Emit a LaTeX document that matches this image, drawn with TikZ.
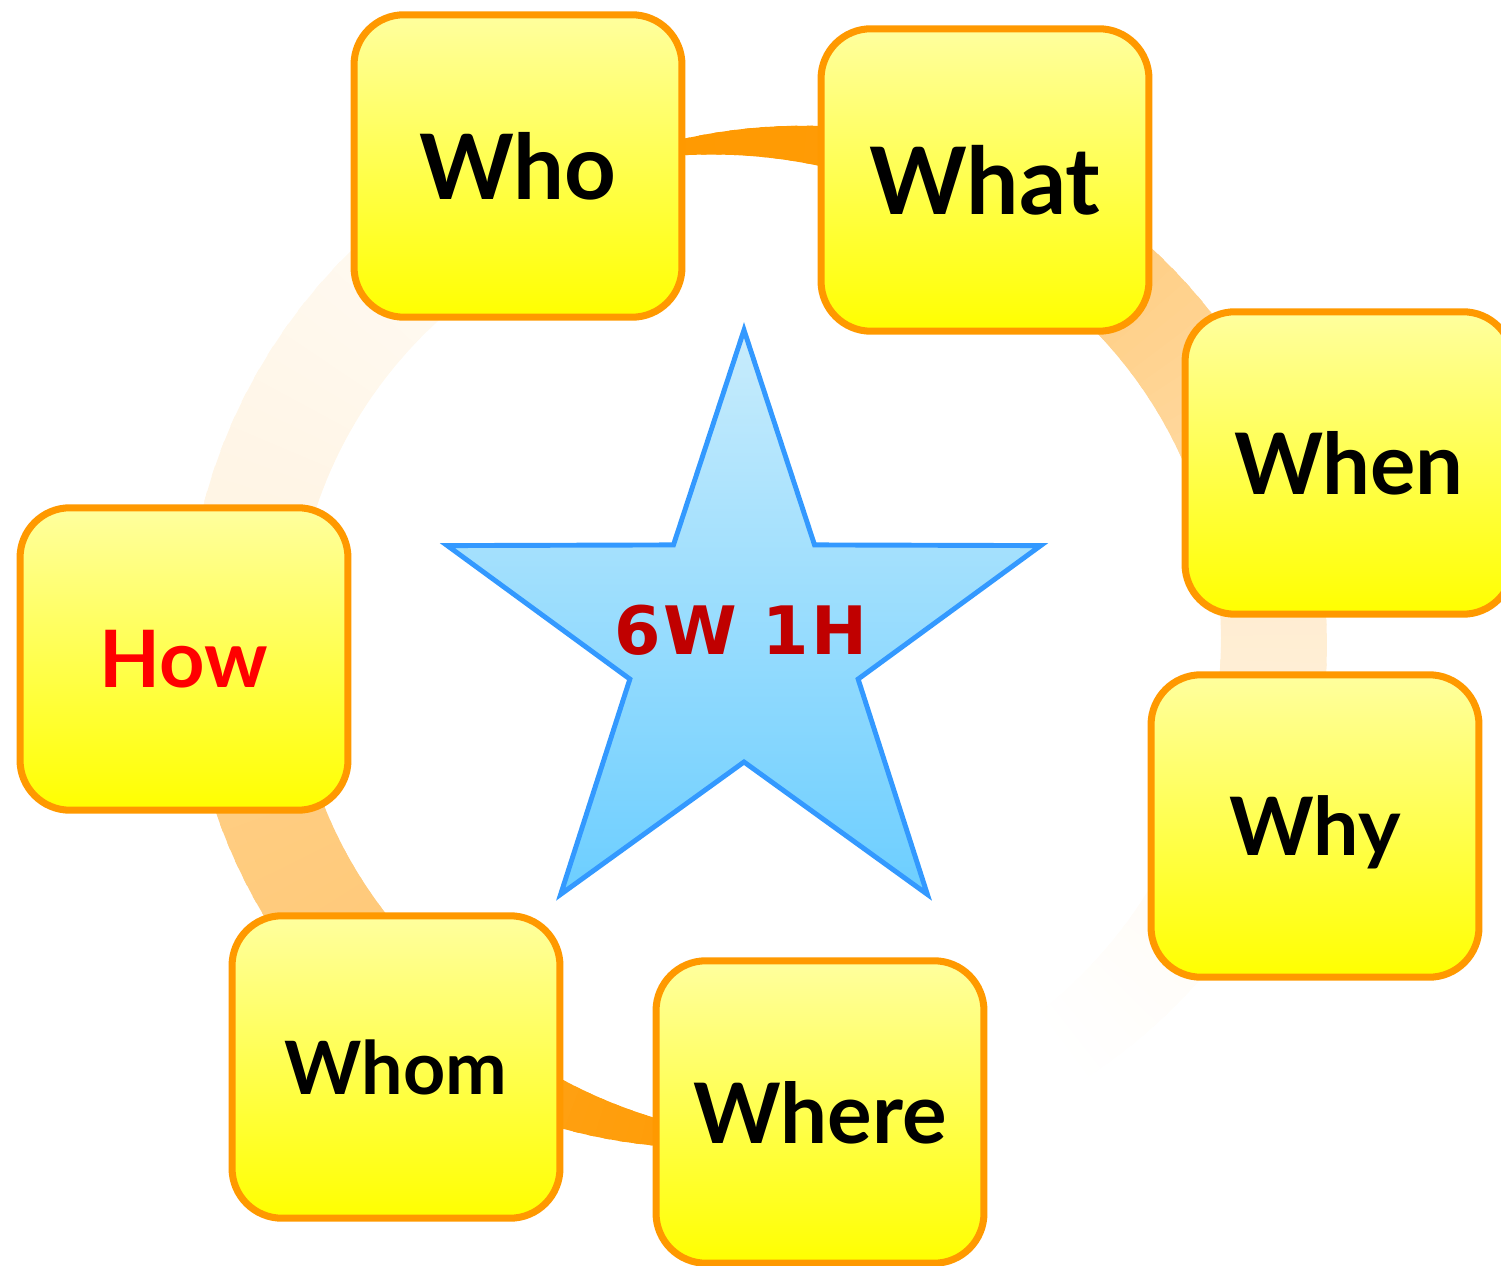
\documentclass[tikz,border=0pt]{standalone}
\usepackage{fontspec}
\setmainfont{Lato}
\newfontfamily\starfont[LetterSpace=4]{DejaVu Sans}
\usepackage{tikz}
\usetikzlibrary{shapes.geometric}
\definecolor{ringorange}{RGB}{255,153,0}
\definecolor{starblue}{RGB}{51,153,255}
\definecolor{startop}{RGB}{200,236,252}
\definecolor{starbottom}{RGB}{108,206,255}
\definecolor{titlered}{RGB}{192,0,0}
\newcommand{\ringcx}{757}
\newcommand{\ringcy}{642}
\newcommand{\ringrx}{517}
\newcommand{\ringry}{500}
% one piece of the ring: from angle, to angle, widths, strength of the orange
\newcommand{\ringpart}[6]{%
  \foreach \i in {0,...,23}{%
    \pgfmathsetmacro{\angA}{#1+(#2-#1)*\i/24}%
    \pgfmathsetmacro{\angB}{#1+(#2-#1)*(\i+1.4)/24}%
    \pgfmathsetmacro{\halfA}{(#3+(#4-#3)*\i/24)/2}%
    \pgfmathsetmacro{\halfB}{(#3+(#4-#3)*(\i+1.4)/24)/2}%
    \pgfmathsetmacro{\mixpc}{#5+(#6-#5)*(\i+0.5)/24}%
    \fill[ringorange!\mixpc!white]
      ({\ringcx+(\ringrx+\halfA)*cos(\angA)},{\ringcy+(\ringry+\halfA)*sin(\angA)})
      -- ({\ringcx+(\ringrx+\halfB)*cos(\angB)},{\ringcy+(\ringry+\halfB)*sin(\angB)})
      -- ({\ringcx+(\ringrx-\halfB)*cos(\angB)},{\ringcy+(\ringry-\halfB)*sin(\angB)})
      -- ({\ringcx+(\ringrx-\halfA)*cos(\angA)},{\ringcy+(\ringry-\halfA)*sin(\angA)})
      -- cycle;
  }}

\begin{document}
\begin{tikzpicture}[x=0.02cm, y=-0.02cm,
    wbox/.style={draw=ringorange, line width=4pt, rounded corners=1cm,
      top color=yellow!38!white, bottom color=yellow,
      minimum width=6.56cm, minimum height=6.05cm, text depth=0pt,
      font=\fontsize{#1}{#1}\bfseries\selectfont}]

    \useasboundingbox (0,0) rectangle (1501,1266);
    \clip (0,0) rectangle (1501,1266);

    % the ring behind the boxes
    \ringpart{252}{292}{1}{63}{100}{97}
    \ringpart{295.5}{342.6}{95}{104}{54}{36}
    \ringpart{342.6}{378.8}{104}{108}{20}{14}
    \ringpart{378.8}{415}{108}{80}{5}{0}
    \ringpart{86}{126}{1}{69}{100}{90}
    \ringpart{129.4}{178.2}{100}{106}{54}{47}
    \ringpart{178.2}{244.1}{108}{112}{13}{3}

    \node[star, star points=5, star point ratio=2.6, minimum size=12.48cm,
      inner sep=0pt, draw=starblue, line width=2.8pt,
      top color=startop, bottom color=starbottom] (star) at (744,642) {};
    \node[font=\fontsize{38pt}{38pt}\starfont\bfseries, text=titlered]
      (title) at (741,630) {6W 1H};

    \node[wbox=51.4pt] (who) at (518,166) {Who};
    \node[wbox=53pt] (what) at (985,180) {What};
    \node[wbox=48.3pt] (when) at (1349,463) {When};
    \node[wbox=45.9pt] (why) at (1315,826) {Why};
    \node[wbox=47.5pt] (where) at (820,1112) {Where};
    \node[wbox=41.9pt] (whom) at (396,1067) {Whom};
    \node[wbox=45.1pt, text=red] (how) at (184,659) {How};

\end{tikzpicture}
\end{document}
